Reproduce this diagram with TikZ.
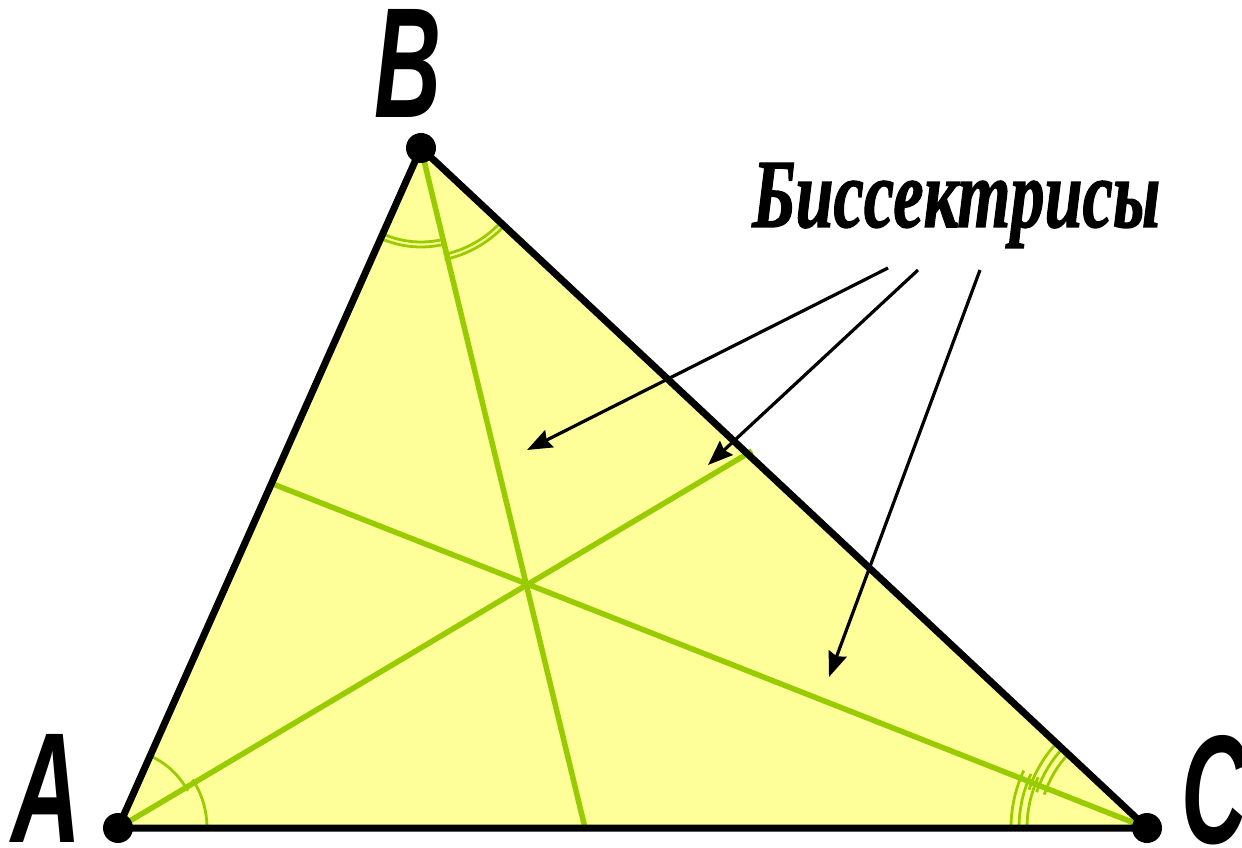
\documentclass[tikz,border=0pt]{standalone}
\usepackage{fontspec}
\setmainfont{Liberation Serif}
\newfontfamily\labfont{Liberation Sans}
\newfontfamily\capfont[BoldItalicFeatures={FakeBold=1.5}]{Liberation Serif}
\usetikzlibrary{arrows.meta}
\definecolor{fillyel}{HTML}{FFFF99}
\definecolor{bisgreen}{HTML}{99CC00}
\tikzset{
  bis/.style={draw=bisgreen, line width=5.5pt},
  amark/.style={draw=bisgreen, line width=2.8pt},
  side/.style={draw=black, line width=7pt, line join=round},
  vdot/.style={circle, fill=black, inner sep=0pt, minimum size=30pt},
  arr/.style={draw=black, line width=3.2pt, -{Stealth[length=25pt,width=19pt,inset=3pt]}},
  vlabel/.style={inner sep=0pt, anchor=base, font=\labfont\bfseries\itshape},
}
\begin{document}
\begin{tikzpicture}[x=1pt,y=1pt]
\useasboundingbox (0,0) rectangle (1242,847);
% vertices
\coordinate (A) at (118,19);
\coordinate (B) at (421,699);
\coordinate (C) at (1147,19);
% bisector feet
\coordinate (Da) at (752,396);
\coordinate (Db) at (585,19);
\coordinate (Dc) at (273,363);
% fill
\fill[fillyel] (A) -- (B) -- (C) -- cycle;
% bisectors
\draw[bis] (A) -- (Da);
\draw[bis] (B) -- (Db);
\draw[bis] (C) -- (Dc);
% angle marks at A (single)
\draw[amark] (A) ++(0:89pt) arc[start angle=0, end angle=33, radius=89pt];
\draw[amark] (A) ++(28:79pt) arc[start angle=28, end angle=66, radius=79pt];
% angle marks at B (double)
\draw[amark] (B) ++(246:94pt) arc[start angle=246, end angle=284, radius=94pt];
\draw[amark] (B) ++(246:99pt) arc[start angle=246, end angle=284, radius=99pt];
\draw[amark] (B) ++(282:109pt) arc[start angle=282, end angle=317, radius=109pt];
\draw[amark] (B) ++(282:114pt) arc[start angle=282, end angle=317, radius=114pt];
% angle marks at C (triple)
\draw[amark] (C) ++(137:108pt) arc[start angle=137, end angle=162, radius=108pt];
\draw[amark] (C) ++(137:116pt) arc[start angle=137, end angle=162, radius=116pt];
\draw[amark] (C) ++(137:124pt) arc[start angle=137, end angle=162, radius=124pt];
\draw[amark] (C) ++(155:120pt) arc[start angle=155, end angle=180, radius=120pt];
\draw[amark] (C) ++(155:128pt) arc[start angle=155, end angle=180, radius=128pt];
\draw[amark] (C) ++(155:136pt) arc[start angle=155, end angle=180, radius=136pt];
% sides
\draw[side] (A) -- (B) -- (C) -- cycle;
% vertex dots
\node[vdot] (dA) at (A) {};
\node[vdot] (dB) at (B) {};
\node[vdot] (dC) at (C) {};
% vertex labels
\node[vlabel] (lA) at (47,5) {\resizebox{70pt}{108pt}{A}};
\node[vlabel] (lB) at (408,730) {\resizebox{67pt}{108pt}{B}};
\node[vlabel] (lC) at (1214,4) {\resizebox{66pt}{108pt}{C}};
% caption
\node[inner sep=0pt, anchor=base west] (cap) at (752,620)
  {\resizebox{408pt}{64pt}{\capfont\bfseries\itshape Биссектрисы}};
% arrows
\coordinate (s1) at (888,579);
\coordinate (t1) at (527,397);
\coordinate (s2) at (918,577);
\coordinate (t2) at (708,382);
\coordinate (s3) at (980,577);
\coordinate (t3) at (829,170);
\draw[arr] (s1) -- (t1);
\draw[arr] (s2) -- (t2);
\draw[arr] (s3) -- (t3);
\end{tikzpicture}
\end{document}
